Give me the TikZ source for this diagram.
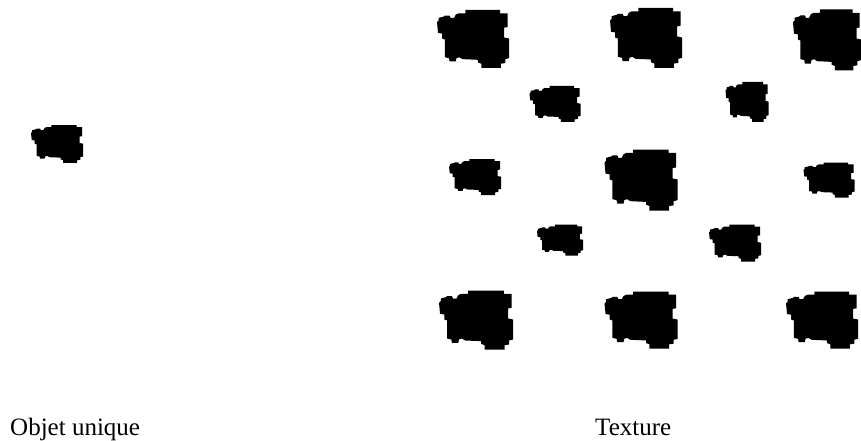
\documentclass[tikz,border=0pt]{standalone}
\usepackage{fontspec}
\setmainfont{Liberation Serif}
\usepackage{tikz}
\usetikzlibrary{positioning}

% one blob, centred on the origin, 211 x 177 units
\tikzset{
  blob/.pic={
    \fill[black] (-22.5,-88.5) -- (79.5,-88.5) -- (79.5,-78.5) -- (101.5,-78.5)
      -- (101.5,-36.5) -- (91.5,-34.5) -- (91.5,-4.5) -- (105.5,-1.5)
      -- (105.5,58.5) -- (94.5,61.5) -- (94.5,73.5) -- (81.5,75.5)
      -- (81.5,88.5) -- (24.5,88.5) -- (24.5,75.5) -- (14.5,71.5)
      -- (14.5,63.5) -- (-30.5,61.5) -- (-40.5,55.5) -- (-48.5,58.5)
      -- (-50.5,68.5) -- (-68.5,68.5) -- (-70.5,58.5) -- (-82.5,55.5)
      -- (-82.5,1.5) -- (-90.5,-1.5) -- (-90.5,-16.5) -- (-102.5,-18.5)
      -- (-105.5,-51.5) -- (-100.5,-56.5) -- (-100.5,-64.5) -- (-85.5,-68.5)
      -- (-82.5,-71.5) -- (-68.5,-71.5) -- (-65.5,-64.5) -- (-55.5,-64.5)
      -- (-50.5,-74.5) -- (-42.5,-78.5) -- (-22.5,-78.5) -- cycle;
  },
  caption/.style={font=\fontsize{25}{30}\selectfont, anchor=base west, inner sep=0pt}
}

\begin{document}
\begin{tikzpicture}[x=1pt, y=-1pt]
    \useasboundingbox[fill=white] (0,0) rectangle (861,441);

    % Single object
    \pic[xscale=52/211, yscale=38/177] at (57,144) {blob};

    % Texture
    \foreach \cx/\cy/\w/\h in {
        473/39/72/58, 646/38/72/60, 827/40/68/61,
        555/104/51/36, 747/102/43/40,
        475/177/52/36, 641/180/73/61, 829/180/51/35,
        560/240/46/31, 735/243/52/37,
        476/320/74/59, 641/320/73/57, 822/320/72/57
    } {
        \pic[xscale=\w/211, yscale=\h/177] at (\cx,\cy) {blob};
    }

    % Captions
    \node[caption] (objet) at (10,435) {Objet unique};
    \node[caption] (texture) at (595,435) {Texture};
\end{tikzpicture}
\end{document}
